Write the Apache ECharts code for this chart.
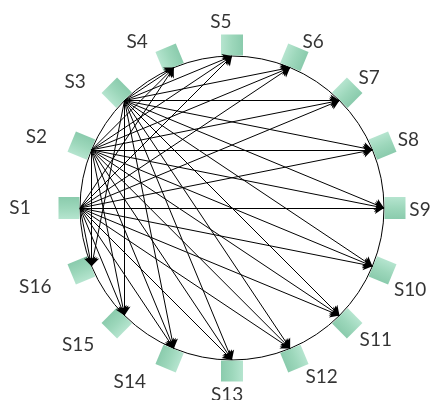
<!DOCTYPE html>
<html><head><meta charset="utf-8">
<script src="https://cdn.jsdelivr.net/npm/echarts@6/dist/echarts.min.js"></script>
<style>html,body{margin:0;padding:0;background:#fff}#c{width:433px;height:400px}</style>
</head><body><div id="c"></div>
<script>
// Node names around the ring (clockwise, starting at the left)
const nodeNames = ['S1','S2','S3','S4','S5','S6','S7','S8','S9','S10','S11','S12','S13','S14','S15','S16'];
// Nodes that send messages
const sources = ['S1','S2','S3'];
// Nodes that receive messages from every source
const targets = ['S4','S5','S6','S7','S8','S9','S10','S11','S12','S13','S14','S15','S16'];

const step = 360 / nodeNames.length;
const angleOf = i => i * step;                 // polar angle value (clockwise from left)
const mathAngle = i => 180 - angleOf(i);       // counter-clockwise degrees for rotation

const links = [];
sources.forEach(s => targets.forEach(t => links.push({ source: s, target: t })));

// Layout only: label placement around the ring, as [radius px, angle shift deg]
const labelLayout = [
  [212, 0], [208, -2.6], [201, -6.3], [191, -7.3], [186, -3.4], [185, 3.5], [189, 1.5], [189, 1.4],
  [188, 0.6], [196, 2.2], [195, -2.5], [191, -5.5], [187, 1.5], [202, 7.9], [206, 3.3], [212, 0.6]
];
const RECT_R = 163;

const chart = echarts.init(document.getElementById('c'), null, { renderer: 'canvas' });
const hiddenAngle = idx => ({
  polarIndex: idx, type: 'value', min: 0, max: 360, startAngle: 180, clockwise: true,
  axisLine: { show: idx === 0, lineStyle: { color: '#000', width: 1 } },
  axisTick: { show: false }, axisLabel: { show: false }, splitLine: { show: false }
});
chart.setOption({
  animation: false,
  backgroundColor: '#fff',
  polar: [
    { center: [232, 208], radius: 152 },
    { center: [232, 208], radius: 220 }
  ],
  angleAxis: [hiddenAngle(0), hiddenAngle(1)],
  radiusAxis: [
    { polarIndex: 0, type: 'value', min: 0, max: 1, show: false },
    { polarIndex: 1, type: 'value', min: 0, max: 220, show: false }
  ],
  series: [
    {
      type: 'scatter', coordinateSystem: 'polar', polarIndex: 1,
      symbol: 'rect', symbolSize: [21, 22], z: 1,
      itemStyle: {
        color: {
          type: 'linear', x: 0, y: 0, x2: 0, y2: 1,
          colorStops: [
            { offset: 0, color: '#a3dec3' },
            { offset: 0.5, color: '#84cdaa' },
            { offset: 1, color: '#6dbe98' }
          ]
        }
      },
      data: nodeNames.map((n, i) => ({ name: n, value: [RECT_R, angleOf(i)], symbolRotate: mathAngle(i) }))
    },
    {
      type: 'graph', coordinateSystem: 'polar', polarIndex: 0,
      layout: 'none', symbolSize: 0, z: 3,
      label: { show: false },
      edgeSymbol: ['none', 'arrow'], edgeSymbolSize: [0, 9],
      lineStyle: { color: '#000', width: 1, opacity: 1, curveness: 0 },
      data: nodeNames.map((n, i) => ({ name: n, value: [1, angleOf(i)] })),
      links: links
    },
    {
      type: 'scatter', coordinateSystem: 'polar', polarIndex: 1,
      symbolSize: 0, z: 4, silent: true,
      label: {
        show: true, position: 'inside', formatter: '{b}',
        fontFamily: 'Lato', fontSize: 19, color: '#000'
      },
      data: nodeNames.map((n, i) => ({ name: n, value: [labelLayout[i][0], angleOf(i) + labelLayout[i][1]] }))
    }
  ]
});
</script>
</body></html>
